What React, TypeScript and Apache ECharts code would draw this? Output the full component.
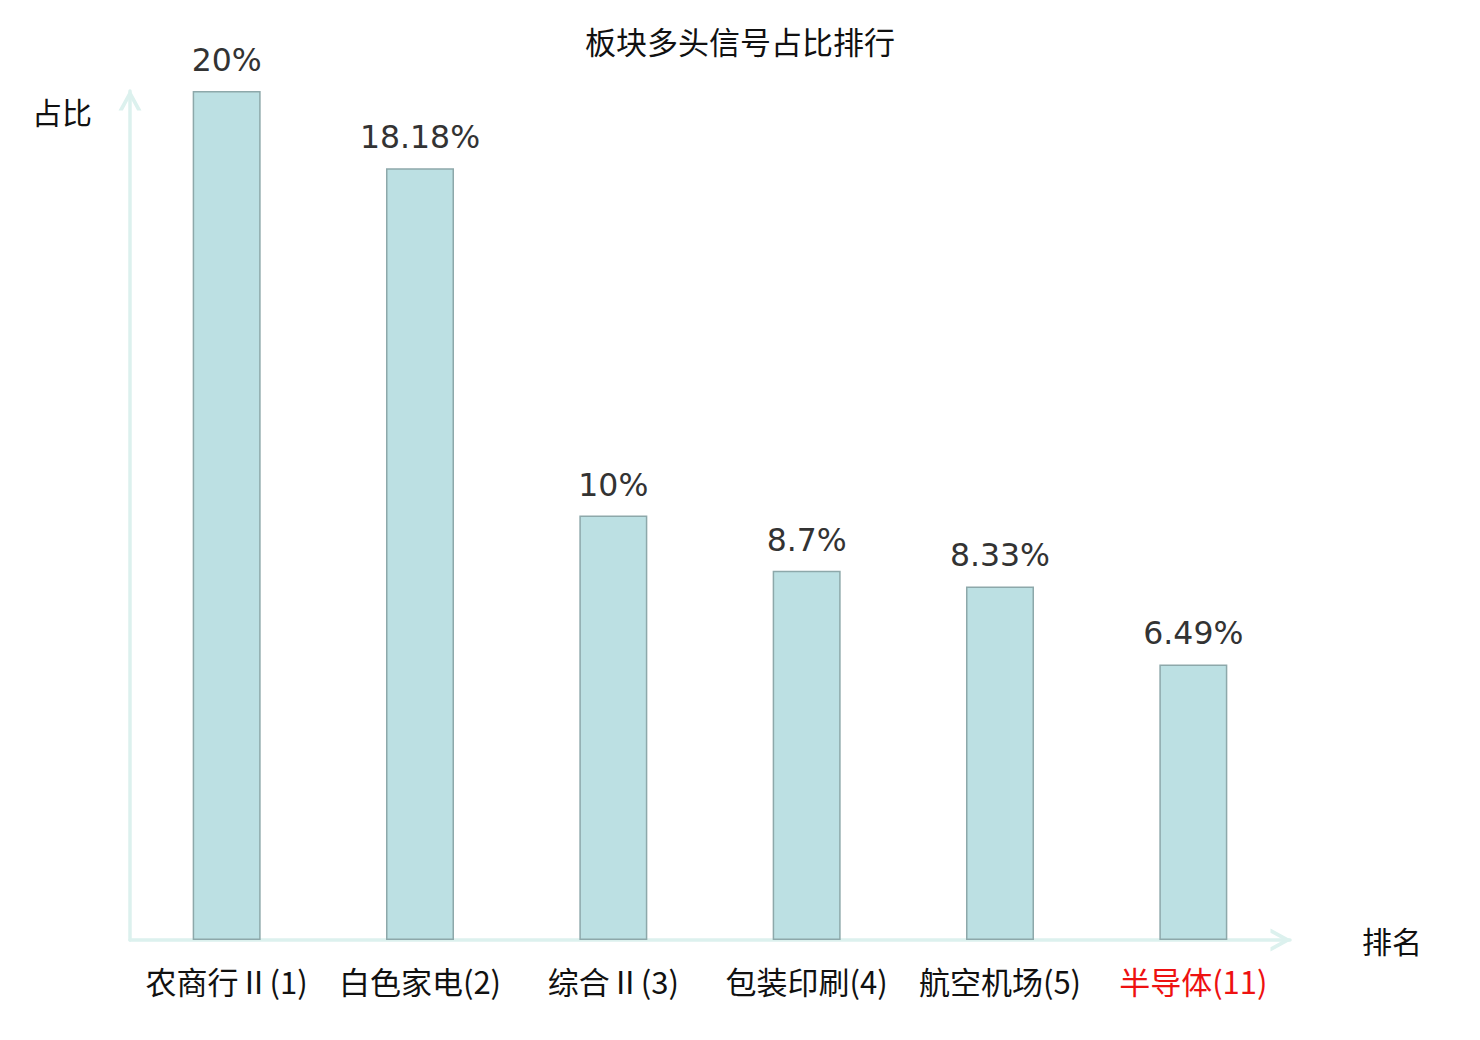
import React, { useEffect, useRef } from "react";
import * as echarts from "echarts";

const categories = ["农商行Ⅱ(1)", "白色家电(2)", "综合Ⅱ(3)", "包装印刷(4)", "航空机场(5)", "半导体(11)"];
const values = [20, 18.18, 10, 8.7, 8.33, 6.49];
const highlightIndex = [5];
const titleText = "板块多头信号占比排行";
const yName = "占比";
const xName = "排名";

const CHEVRON = "path://M12 0 L24 22 L19.5 22 L12 8.2 L4.5 22 L0 22 Z";
const AXIS_COLOR = "#dcf1ee";

export default function App() {
  const ref = useRef<HTMLDivElement>(null);
  useEffect(() => {
    document.body.style.margin = "0";
    const chart = echarts.init(ref.current!, undefined, { renderer: "svg" });
    const axisLine = {
      show: true,
      symbol: ["none", CHEVRON],
      symbolSize: [24, 21],
      symbolOffset: [0, -9],
      lineStyle: { color: AXIS_COLOR, width: 3.5 },
    };
    chart.setOption({
      animation: false,
      title: {
        text: titleText,
        left: "center",
        top: 20,
        textStyle: { fontFamily: "Noto Sans CJK SC", fontSize: 31, fontWeight: "normal", color: "#111" },
      },
      grid: { left: 130, right: 190, top: 91, bottom: 100, containLabel: false },
      xAxis: {
        type: "category",
        data: categories,
        name: xName,
        nameLocation: "end",
        nameGap: 72,
        nameTextStyle: { fontFamily: "Noto Sans CJK SC", fontSize: 30, color: "#111", align: "left", verticalAlign: "middle" },
        axisLine,
        axisTick: { show: false },
        axisLabel: {
          interval: 0,
          margin: 25,
          fontFamily: "Noto Sans CJK SC",
          fontSize: 31,
          color: (_v: string, i: number) => (highlightIndex.includes(i) ? "#ee1111" : "#111"),
        },
      },
      yAxis: {
        type: "value",
        min: 0,
        max: 20,
        name: yName,
        nameLocation: "end",
        nameGap: -20,
        nameTextStyle: {
          fontFamily: "Noto Sans CJK SC",
          fontSize: 30,
          color: "#111",
          align: "right",
          verticalAlign: "middle",
          padding: [0, 38, 0, 0],
        },
        axisLine,
        axisTick: { show: false },
        axisLabel: { show: false },
        splitLine: { show: false },
      },
      series: [
        {
          type: "bar",
          data: values,
          barWidth: 68,
          itemStyle: { color: "#bce0e3", borderColor: "#8da8aa", borderWidth: 1.5 },
          label: {
            show: true,
            position: "top",
            distance: 15,
            formatter: (p: any) => `${p.value}%`,
            fontFamily: "DejaVu Sans",
            fontSize: 31.5,
            color: "#333",
          },
        },
      ],
    });
    return () => chart.dispose();
  }, []);
  return <div ref={ref} style={{ width: 1480, height: 1040 }} />;
}
